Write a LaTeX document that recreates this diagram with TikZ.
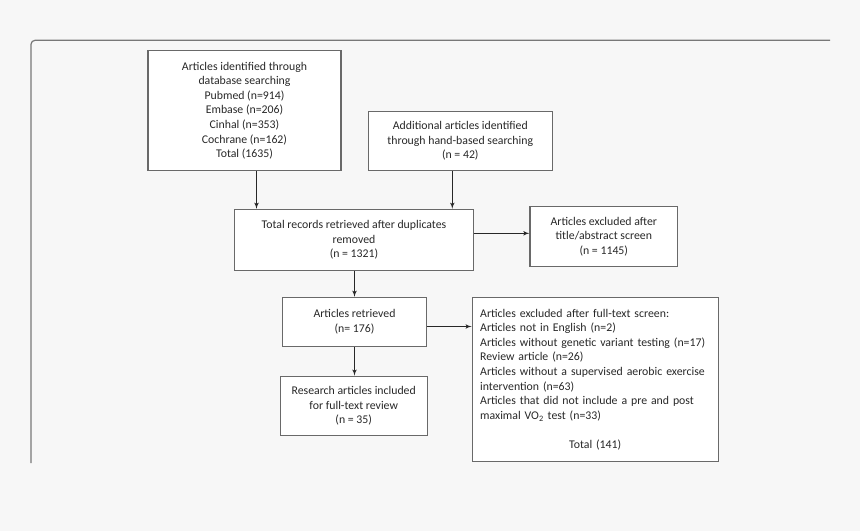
\documentclass[tikz,border=0pt]{standalone}
\usepackage{fontspec}
\setmainfont{Carlito}
\usepackage{xcolor}
\definecolor{Paper}{RGB}{247,247,247}
\definecolor{Frame}{RGB}{120,120,120}
\definecolor{Edge}{RGB}{105,105,105}
\definecolor{Ink}{RGB}{40,40,40}
\usetikzlibrary{shapes,arrows}
\tikzstyle{block} = [rectangle, draw=Edge, fill=white, line width=1.1pt,
    text=Ink, align=center, inner sep=4pt,
    font=\fontsize{11.8}{14.6}\selectfont]
\tikzstyle{line} = [draw=Ink, line width=1.1pt, -latex']

\begin{document}
\begin{tikzpicture}[x=1pt, y=-1pt, auto]
  \useasboundingbox (0,0) rectangle (860,531);
  \fill [Paper] (0,0) rectangle (860,531);
  \draw [Frame, line width=1.2pt, rounded corners=4pt] (31,463) -- (31,40.3) -- (830,40.3);
  %
  \node [block, minimum width=193, minimum height=120] (Db) at (244.5,110.7)
    {Articles identified through\\ database searching\\ Pubmed (n=914)\\ Embase (n=206)\\
     Cinhal (n=353)\\ Cochrane (n=162)\\ Total (1635)};
  \node [block, minimum width=184, minimum height=58.5] (Hand) at (460.3,141)
    {Additional articles identified\\ through hand-based searching\\ (n = 42)};
  \node [block, minimum width=238.6, minimum height=61] (Tot) at (354,239.8)
    {Total records retrieved after duplicates\\ removed\\ (n = 1321)};
  \node [block, minimum width=147.7, minimum height=60] (ExclA) at (603.8,236.7)
    {Articles excluded after\\ title/abstract screen\\ (n = 1145)};
  \node [block, minimum width=144.4, minimum height=49.4] (Ret) at (354.5,322)
    {Articles retrieved\\ (n= 176)};
  \node [block, minimum width=147.3, minimum height=59.7] (Inc) at (353.7,406)
    {Research articles included\\ for full-text review\\ (n = 35)};
  \node [block, align=left, text width=230, inner xsep=8, minimum height=164.4] (ExclB) at (595.2,379.5)
    {Articles excluded after full-text screen:\\ Articles not in English (n=2)\\
     Articles without genetic variant testing (n=17)\\ Review article (n=26)\\
     Articles without a supervised aerobic exercise\\ intervention (n=63)\\
     Articles that did not include a pre and post\\ maximal VO\textsubscript{2} test (n=33)\\[14.6pt]
     \makebox[\linewidth]{Total (141)}};
  %
  \coordinate (DbOut) at ([xshift=12]Db.south);
  \path [line] (DbOut) -- (DbOut |- Tot.north);
  \coordinate (HandOut) at ([xshift=-8]Hand.south);
  \path [line] (HandOut) -- (HandOut |- Tot.north);
  %
  \coordinate (TotOut) at ([yshift=6.5]Tot.east);
  \path [line] (TotOut) -- (TotOut -| ExclA.west);
  \coordinate (TotDown) at ([xshift=0.5]Tot.south);
  \path [line] (TotDown) -- (TotDown |- Ret.north);
  %
  \coordinate (RetOut) at ([yshift=-4.5]Ret.east);
  \path [line] (RetOut) -- (RetOut -| ExclB.west);
  \path [line] (Ret.south) -- (Ret.south |- Inc.north);
\end{tikzpicture}
\end{document}
